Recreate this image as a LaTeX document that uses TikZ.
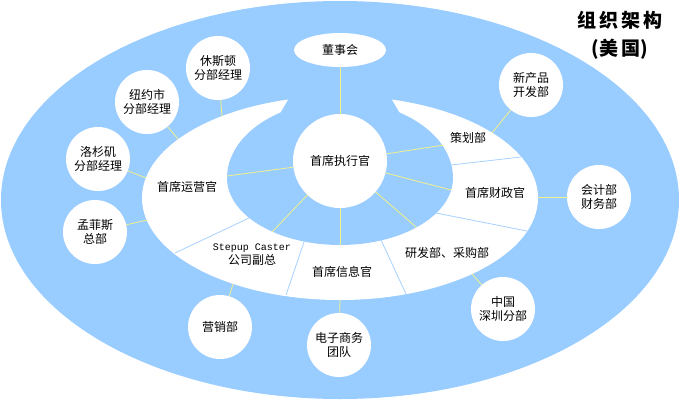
\documentclass[tikz,border=0pt]{standalone}
\usepackage{fontspec}
\setmainfont{Noto Sans CJK SC}
\setmonofont{Liberation Mono}
\usetikzlibrary{shapes.geometric}
\definecolor{skyblue}{HTML}{99CCFF}
\definecolor{linkyellow}{HTML}{F2F28C}
\definecolor{seamblue}{HTML}{A6D2FF}
\begin{document}
\begin{tikzpicture}[x=1pt,y=-1pt,
        unit/.style={circle,fill=white,minimum size=64pt,inner sep=0pt,align=center,font=\fontsize{12}{14}\selectfont},
        post/.style={align=center,inner sep=0pt,font=\fontsize{12}{14}\selectfont},
        link/.style={draw=linkyellow,line width=0.8pt},
        seam/.style={draw=seamblue,line width=0.8pt}]
                \useasboundingbox (0,0) rectangle (680,400);
                \fill[skyblue] (340,200) ellipse [x radius=339pt, y radius=199pt];
                \fill[white] (340,198) ellipse [x radius=198pt, y radius=102pt];
                \fill[skyblue] (227,178) arc [start angle=180, end angle=0, x radius=113pt, y radius=77pt]
                    arc [start angle=0, end angle=-180, x radius=113pt, y radius=67pt] -- cycle;
                \fill[skyblue] (292,90) -- (288,100) -- (278,117) -- (402,117) -- (392,100) -- (388,90) -- cycle;

                \draw[seam] (175,253) -- (249,218);
                \draw[seam] (286,295) -- (304,242);
                \draw[seam] (406,294) -- (381,240);
                \draw[seam] (527,231) -- (436,213);
                \draw[seam] (521,157) -- (451,165);

                \node[font=\bfseries\fontsize{19}{28}\selectfont,align=center] (title) at (620,35) {组\hspace{3pt}织\hspace{3pt}架\hspace{3pt}构\\(美\hspace{3pt}国)};

                \node[ellipse,fill=white,minimum width=92pt,minimum height=34pt,inner sep=0pt,font=\fontsize{12}{14}\selectfont] (board) at (340,50) {董事会};
                \node[circle,fill=white,minimum size=94pt,inner sep=0pt,font=\fontsize{12}{14}\selectfont] (ceo) at (340,161) {首席执行官};

                \node[post] (coo) at (187,187) {首席运营官};
                \node[post] (vp) at (252,255) {{\ttfamily\fontsize{10}{14}\selectfont Stepup Caster}\\公司副总};
                \node[post] (cio) at (342,272) {首席信息官};
                \node[post] (rnd) at (447,253) {研发部、采购部};
                \node[post] (cfo) at (495,193) {首席财政官};
                \node[post] (plan) at (468,138) {策划部};

                \node[unit] (hou) at (218,68) {休斯顿\\分部经理};
                \node[unit] (nyc) at (147,102) {纽约市\\分部经理};
                \node[unit] (lax) at (98,159) {洛杉矶\\分部经理};
                \node[unit] (mem) at (95,232) {孟菲斯\\总部};
                \node[unit] (mkt) at (220,327) {营销部};
                \node[unit] (ecom) at (339,345) {电子商务\\团队};
                \node[unit] (szn) at (503,309) {中国\\深圳分部};
                \node[unit] (acct) at (599,197) {会计部\\财务部};
                \node[unit] (npd) at (531,85) {新产品\\开发部};

                \coordinate (coo-i) at (227,176);
                \coordinate (vp-i) at (272,232);
                \coordinate (cio-i) at (340,245);
                \coordinate (rnd-i) at (416,227);
                \coordinate (cfo-i) at (451,190);
                \coordinate (plan-i) at (444,145);

                \coordinate (hou-e) at (222,116);
                \coordinate (nyc-e) at (178,139);
                \coordinate (lax-e) at (146,178);
                \coordinate (mem-e) at (147,220);
                \coordinate (mkt-e) at (233,284);
                \coordinate (ecom-e) at (340,300);
                \coordinate (szn-e) at (472,274);
                \coordinate (acct-e) at (538,197);
                \coordinate (npd-e) at (492,133);

                \draw[link] (board) to (ceo);
                \draw[link] (ceo) to (coo-i);
                \draw[link] (ceo) to (vp-i);
                \draw[link] (ceo) to (cio-i);
                \draw[link] (ceo) to (rnd-i);
                \draw[link] (ceo) to (cfo-i);
                \draw[link] (ceo) to (plan-i);

                \draw[link] (hou) to (hou-e);
                \draw[link] (nyc) to (nyc-e);
                \draw[link] (lax) to (lax-e);
                \draw[link] (mem) to (mem-e);
                \draw[link] (mkt) to (mkt-e);
                \draw[link] (ecom) to (ecom-e);
                \draw[link] (szn) to (szn-e);
                \draw[link] (acct) to (acct-e);
                \draw[link] (npd) to (npd-e);
            \end{tikzpicture}
\end{document}
